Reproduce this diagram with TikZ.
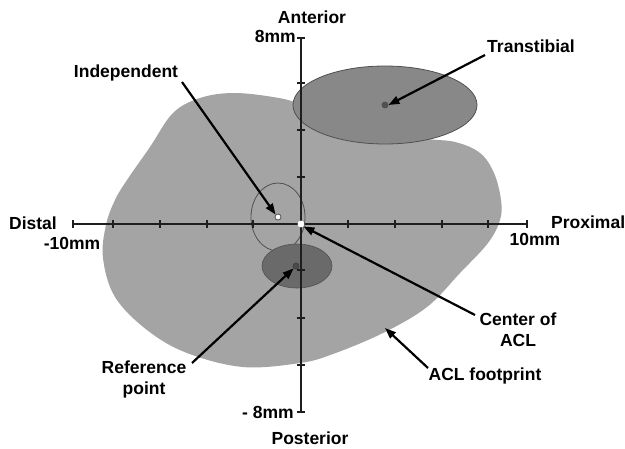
\documentclass[tikz,border=0pt]{standalone}
\usepackage{fontspec}
\setmainfont{Liberation Sans}
\usetikzlibrary{arrows.meta}
\definecolor{footprint}{HTML}{A4A4A4}
\definecolor{ttgray}{HTML}{888888}
\definecolor{refgray}{HTML}{6A6A6A}
\definecolor{edgegray}{HTML}{505050}
\definecolor{axisblack}{HTML}{1E1E1E}
\tikzset{
  lbl/.style={font=\fontsize{17.5}{21}\selectfont\bfseries, inner sep=0pt, align=center},
  axisline/.style={line width=2.4pt, draw=axisblack},
  tickmark/.style={line width=1.2pt, draw=axisblack},
  pointer/.style={line width=2.2pt, draw=black, -{Triangle[length=11pt,width=8pt]}},
  dot/.style={circle, inner sep=0pt, minimum size=6pt, line width=0.8pt}
}
\begin{document}
\begin{tikzpicture}[x=1pt,y=-1pt]
\path[use as bounding box, fill=white] (0,0) rectangle (625,448);
% ACL footprint
\fill[footprint] plot[smooth cycle, tension=0.6] coordinates {
 (233,93) (273,97) (300,104) (350,125) (420,138) (455,142) (480,153) (494,173)
 (501,200) (500,220) (488,243) (460,273) (427,307) (383,333) (333,354) (300,363)
 (243,367) (187,353) (147,330) (115,297) (103,258) (106,225) (115,200) (127,180)
 (150,147) (173,113) (200,98)};
% Transtibial ellipse
\draw[fill=ttgray, draw=edgegray, line width=0.8pt] (385,105) ellipse [x radius=92, y radius=39];
% Independent ellipse
\draw[fill=footprint, draw=edgegray, line width=0.8pt] (278,217) ellipse [x radius=27, y radius=34];
% Reference ellipse
\draw[fill=refgray, draw=edgegray, line width=0.6pt] (297,266) ellipse [x radius=35, y radius=22];
% axes
\draw[axisline] (73,224) -- (527,224);
\draw[axisline] (301,38) -- (301,412);
\foreach \x in {73,113,160,207,253,348,395,442,488,527}
  \draw[tickmark] (\x,220) -- (\x,228);
\foreach \y in {38,83,130,177,270,318,365,412}
  \draw[tickmark] (297,\y) -- (305,\y);
% points
\node[dot, fill=edgegray, draw=edgegray] (ttdot) at (385,105) {};
\node[dot, fill=white, draw=edgegray] (inddot) at (278,217) {};
\node[dot, fill=refgray!70!black, draw=refgray!60!black] (refdot) at (296,266) {};
\node[dot, fill=white, draw=white] (centerdot) at (301,224) {};
\coordinate (fptip) at (385,328);
% labels
\node[lbl] (ant) at (312,17) {Anterior};
\node[lbl, anchor=east] (eightp) at (296,36) {8mm};
\node[lbl] (ind) at (126,73) {Independent};
\node[lbl] (tt) at (531,46) {Transtibial};
\node[lbl] (distal) at (33,223) {Distal};
\node[lbl] (mten) at (72,243) {-10mm};
\node[lbl, anchor=west] (prox) at (551,222) {Proximal};
\node[lbl] (pten) at (535,239) {10mm};
\node[lbl] (center) at (518,330) {Center of\\ACL};
\node[lbl] (fp) at (485,376) {ACL footprint};
\node[lbl] (ref) at (144,379) {Reference\\point};
\node[lbl] (meight) at (268,412) {- 8mm};
\node[lbl] (post) at (310,438) {Posterior};
% arrow tails
\coordinate (indtail) at (182,82);
\coordinate (tttail) at (485,55);
\coordinate (centertail) at (475,315);
\coordinate (fptail) at (428,368);
\coordinate (reftail) at (192,363);
% arrows
\draw[pointer] (indtail) -- (inddot.north west);
\draw[pointer] (tttail) -- (ttdot.east);
\draw[pointer] (centertail) -- (centerdot.south east);
\draw[pointer] (fptail) -- (fptip);
\draw[pointer] (reftail) -- (refdot.south west);
\end{tikzpicture}
\end{document}
